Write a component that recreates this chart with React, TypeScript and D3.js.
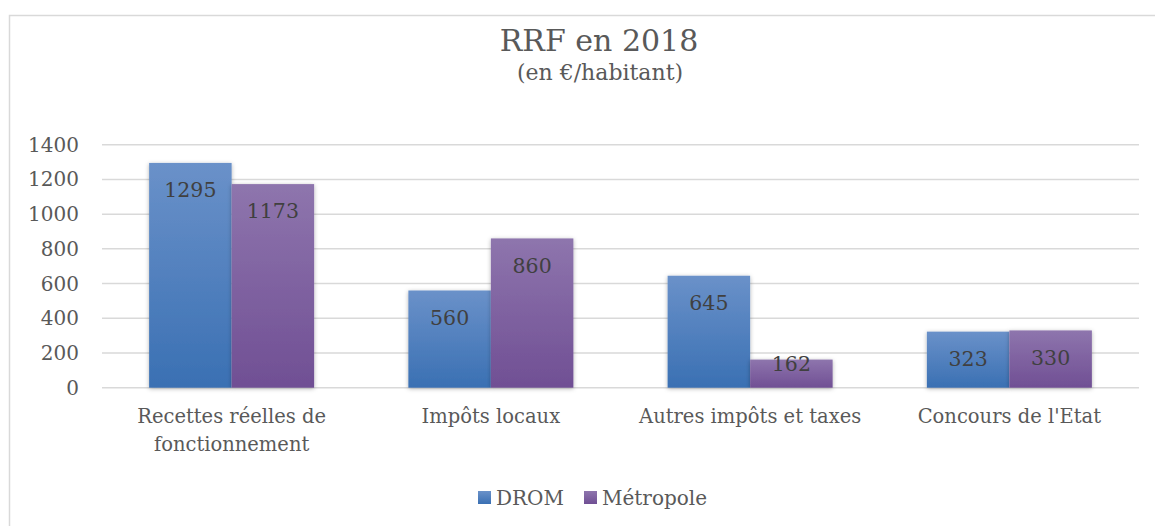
import React from "react";
import * as d3 from "d3";

const categories: string[][] = [
  ["Recettes réelles de", "fonctionnement"],
  ["Impôts locaux"],
  ["Autres impôts et taxes"],
  ["Concours de l'Etat"],
];
const seriesNames = ["DROM", "Métropole"];
const dromValues = [1295, 560, 645, 323];
const metroValues = [1173, 860, 162, 330];
const yTicks = [0, 200, 400, 600, 800, 1000, 1200, 1400];

const W = 1155;
const H = 526;
const FONT = "'DejaVu Serif', 'Liberation Serif', serif";

export default function App() {
  const x0 = d3.scaleBand<number>().domain(d3.range(categories.length)).range([102, 1139]).paddingInner(0).paddingOuter(0);
  const y = d3.scaleLinear().domain([0, 1400]).range([387.7, 144.7]);
  const bw = x0.bandwidth();
  const barW = 82.5;
  const pad = (bw - 2 * barW) / 2;
  const series = [dromValues, metroValues];
  const gradIds = ["gDrom", "gMetro"];
  const legendX = [478, 584];

  return (
    <svg width={W} height={H} style={{ position: "absolute", left: 0, top: 0 }} fontFamily={FONT}>
      <defs>
        <linearGradient id="gDrom" x1="0" y1="0" x2="0" y2="1">
          <stop offset="0" stopColor="#6a91c9" />
          <stop offset="1" stopColor="#3a70b3" />
        </linearGradient>
        <linearGradient id="gMetro" x1="0" y1="0" x2="0" y2="1">
          <stop offset="0" stopColor="#8e75ad" />
          <stop offset="1" stopColor="#704f94" />
        </linearGradient>
        <filter id="shadow" x="-20%" y="-20%" width="140%" height="140%">
          <feDropShadow dx="0" dy="1" stdDeviation="2" floodColor="#000" floodOpacity="0.3" />
        </filter>
      </defs>
      <rect x={0} y={0} width={W} height={H} fill="#fff" />
      <rect x={9.5} y={15.5} width={W + 20} height={H + 20} fill="#fff" stroke="#d9d9d9" strokeWidth={1.5} />
      <text x={599} y={51} textAnchor="middle" fontSize={30} fill="#595959">RRF en 2018</text>
      <text x={600} y={80} textAnchor="middle" fontSize={22} fill="#595959">(en €/habitant)</text>
      {yTicks.map((t) => (
        <g key={t}>
          <line x1={102} x2={1139} y1={y(t)} y2={y(t)} stroke="#d9d9d9" strokeWidth={1.5} />
          <text x={79} y={y(t)} dy="0.35em" textAnchor="end" fontSize={20} fill="#595959">{t}</text>
        </g>
      ))}
      {categories.map((_, i) =>
        series.map((vals, s) => {
          const bx = (x0(i) as number) + pad + s * barW;
          const top = y(vals[i]);
          const bottom = y(0);
          const ly = Math.min(top + 27, bottom - 24);
          return (
            <g key={`${i}-${s}`}>
              <rect x={bx} y={top} width={barW} height={bottom - top} fill={`url(#${gradIds[s]})`} filter="url(#shadow)" />
              <text x={bx + barW / 2} y={ly} dy="0.35em" textAnchor="middle" fontSize={20.5} fill="#404040">{vals[i]}</text>
            </g>
          );
        })
      )}
      {categories.map((lines, i) => (
        <text key={i} x={(x0(i) as number) + bw / 2} textAnchor="middle" fontSize={19.5} fill="#595959">
          {lines.map((l, k) => (
            <tspan key={k} x={(x0(i) as number) + bw / 2} y={423 + k * 27.5}>{l}</tspan>
          ))}
        </text>
      ))}
      {seriesNames.map((n, s) => (
        <g key={n}>
          <rect x={legendX[s]} y={491} width={13} height={13} fill={`url(#${gradIds[s]})`} />
          <text x={legendX[s] + 18} y={497.5} dy="0.35em" fontSize={20} fill="#595959">{n}</text>
        </g>
      ))}
    </svg>
  );
}
